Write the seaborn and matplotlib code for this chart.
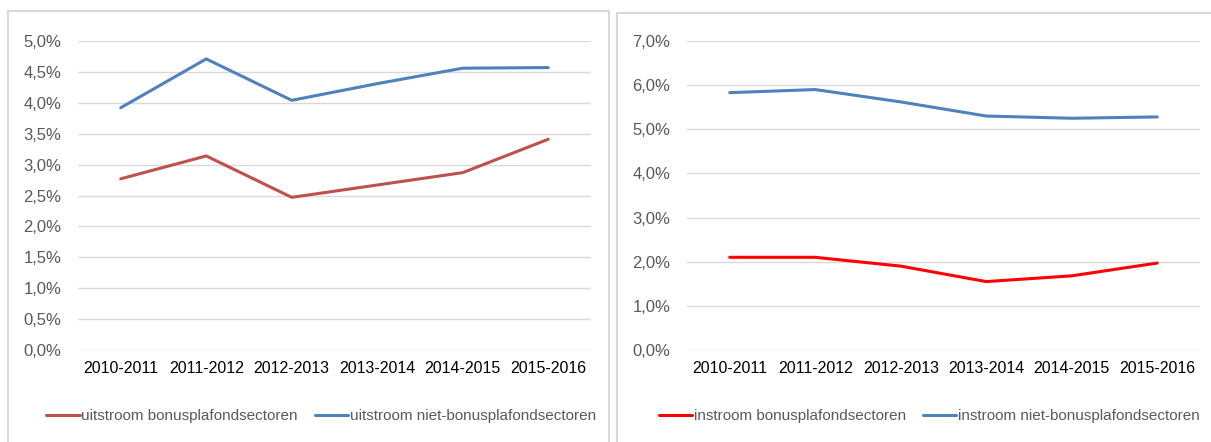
import seaborn as sns
import matplotlib.pyplot as plt
from matplotlib.patches import Rectangle
from matplotlib.ticker import FuncFormatter, MultipleLocator

# uitstroom / instroom per schooljaar, in procenten

periods = ['2010-2011', '2011-2012', '2012-2013', '2013-2014', '2014-2015', '2015-2016']

uit_bonus = [2.77, 3.14, 2.47, 2.67, 2.87, 3.41]
uit_niet_bonus = [3.92, 4.71, 4.04, 4.31, 4.56, 4.57]

in_bonus = [2.10, 2.10, 1.90, 1.55, 1.68, 1.97]
in_niet_bonus = [5.83, 5.90, 5.62, 5.30, 5.25, 5.28]

sns.set_theme(style='white')
plt.rcParams['font.family'] = ['Liberation Sans', 'DejaVu Sans']

W, H = 1211, 442
fig = plt.figure(figsize=(W / 100, H / 100), dpi=100)

def px_box(x0, y0, x1, y1):
    # pixel box (top-left origin) -> figure fraction
    return [x0 / W, 1 - y1 / H, (x1 - x0) / W, (y1 - y0) / H]

# panel frames
for x0, y0, x1 in [(8, 11, 609), (617, 13, 1215)]:
    fig.patches.append(Rectangle((x0 / W, -0.01), (x1 - x0) / W, 1 - y0 / H + 0.01,
                                 transform=fig.transFigure, fill=False,
                                 edgecolor='#D9D9D9', linewidth=1.5))

pct = FuncFormatter(lambda v, _: f'{v:.1f}%'.replace('.', ','))

def style_axes(ax, ymax, step):
    ax.set_xlim(-0.5, len(periods) - 0.5)
    ax.set_ylim(0, ymax)
    ax.yaxis.set_major_locator(MultipleLocator(step))
    ax.yaxis.set_major_formatter(pct)
    ax.grid(axis='y', color='#D9D9D9', linewidth=1)
    ax.set_axisbelow(True)
    for s in ax.spines.values():
        s.set_visible(False)
    ax.tick_params(axis='y', colors='#595959', labelsize=12, length=0, pad=12)
    ax.tick_params(axis='x', colors='black', labelsize=11.5, length=0, pad=8)
    ax.set_xlabel('')
    ax.set_ylabel('')
    ax.set_facecolor('none')

ax1 = fig.add_axes(px_box(78, 41, 591, 350))
sns.lineplot(x=periods, y=uit_bonus, ax=ax1, color='#C0504D', linewidth=2.2,
             label='uitstroom bonusplafondsectoren')
sns.lineplot(x=periods, y=uit_niet_bonus, ax=ax1, color='#4F81BD', linewidth=2.2,
             label='uitstroom niet-bonusplafondsectoren')
style_axes(ax1, 5.0, 0.5)

ax2 = fig.add_axes(px_box(687, 41, 1200, 350))
sns.lineplot(x=periods, y=in_bonus, ax=ax2, color='#FF0000', linewidth=2.2,
             label='instroom bonusplafondsectoren')
sns.lineplot(x=periods, y=in_niet_bonus, ax=ax2, color='#4F81BD', linewidth=2.2,
             label='instroom niet-bonusplafondsectoren')
style_axes(ax2, 7.0, 1.0)

for ax, cx in [(ax1, 321), (ax2, 929)]:
    h, l = ax.get_legend_handles_labels()
    ax.legend_.remove()
    leg = fig.legend(h, l, loc='center', bbox_to_anchor=(cx / W, 1 - 416 / H),
                     ncol=2, frameon=False, fontsize=11, handlelength=2.2,
                     handletextpad=0.1, columnspacing=1.1, borderpad=0)
    for t in leg.get_texts():
        t.set_color('#595959')

fig.savefig('out.png', dpi=100)
